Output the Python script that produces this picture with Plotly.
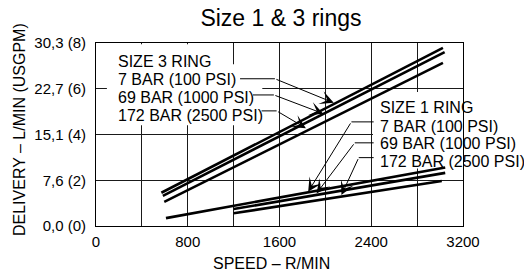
import plotly.graph_objects as go

# ---- data ----
speed_s3_7 = [570, 3025]
flow_s3_7 = [5.5, 29.5]
speed_s3_69 = [583, 3040]
flow_s3_69 = [5.0, 28.8]
speed_s3_172 = [595, 3025]
flow_s3_172 = [4.0, 27.0]

speed_s1_7 = [610, 3045]
flow_s1_7 = [1.3, 9.7]
speed_s1_69 = [1200, 3045]
flow_s1_69 = [2.8, 8.8]
speed_s1_172 = [1200, 3015]
flow_s1_172 = [2.1, 7.45]

x_tickvals = [0, 400, 800, 1200, 1600, 2000, 2400, 2800, 3200]
x_ticktext = ["0", "", "800", "", "1600", "", "2400", "", "3200"]
y_tickvals = [0, 7.575, 15.15, 22.725, 30.3]
y_ticktext = ["0,0 (0)", "7,6 (2)", "15,1 (4)", "22,7 (6)", "30,3 (8)"]

size3_labels = ["SIZE 3 RING", "7 BAR (100 PSI)", "69 BAR (1000 PSI)", "172 BAR (2500 PSI)"]
size1_labels = ["SIZE 1 RING", "7 BAR (100 PSI)", "69 BAR (1000 PSI)", "172 BAR (2500 PSI)"]

FONT = "Liberation Sans, Arial, sans-serif"

fig = go.Figure()
series = [
    (speed_s3_7, flow_s3_7), (speed_s3_69, flow_s3_69), (speed_s3_172, flow_s3_172),
    (speed_s1_7, flow_s1_7), (speed_s1_69, flow_s1_69), (speed_s1_172, flow_s1_172),
]
for sx, sy in series:
    fig.add_trace(go.Scatter(x=sx, y=sy, mode="lines",
                             line=dict(color="black", width=2.6),
                             showlegend=False, hoverinfo="skip"))

# white covers behind label blocks (above grid, below data)
covers = [
    (95, 1150, 26.8, 30.1),     # SIZE 3 RING line
    (95, 1450, 16.7, 26.8),     # size 3 pressure lines
    (2415, 3600, 9.5, 22.2),    # size 1 block
]
for x0, x1, y0, y1 in covers:
    fig.add_shape(type="rect", x0=x0, x1=x1, y0=y0, y1=y1, layer="between",
                  line=dict(width=0), fillcolor="white")

# label texts
s3_y = [27.2, 24.25, 21.2, 18.3]
for t, yy in zip(size3_labels, s3_y):
    fig.add_annotation(x=175, y=yy, text=t, showarrow=False, xanchor="left",
                       yanchor="middle", font=dict(family=FONT, size=16, color="black"))
s1_y = [19.55, 16.55, 13.6, 10.75]
for t, yy in zip(size1_labels, s1_y):
    fig.add_annotation(x=2458, y=yy, text=t, showarrow=False, xanchor="left",
                       yanchor="middle", font=dict(family=FONT, size=16, color="black"))

# leader lines: (horizontal start x, bend x, y, tip x, tip y)
leaders = [
    (1256, 1560, 24.38, 2073, 20.4),
    (1369, 1551, 21.70, 1982, 18.6),
    (1444, 1575, 19.06, 1830, 16.2),
    (2421, 2227, 17.24, 1850, 5.67),
    (2421, 2256, 13.77, 1923, 5.40),
    (2421, 2291, 11.32, 2140, 5.12),
]
for hx0, bx, by, tx, ty in leaders:
    fig.add_shape(type="line", x0=hx0, x1=bx, y0=by, y1=by, layer="above",
                  line=dict(color="black", width=1))
    fig.add_annotation(x=tx, y=ty, ax=bx, ay=by, axref="x", ayref="y",
                       xref="x", yref="y", text="", showarrow=True,
                       arrowhead=3, arrowsize=2.3, arrowwidth=1, arrowcolor="black",
                       standoff=0, startstandoff=0)

# axis titles
fig.add_annotation(xref="paper", yref="paper", x=0.477, y=-0.207, text="SPEED – R/MIN",
                   showarrow=False, xanchor="center", yanchor="middle",
                   font=dict(family=FONT, size=16, color="black"))
fig.add_annotation(xref="paper", yref="paper", x=-0.209, y=0.526,
                   text="DELIVERY – L/MIN (USGPM)", textangle=-90,
                   showarrow=False, xanchor="center", yanchor="middle",
                   font=dict(family=FONT, size=16, color="black"))

fig.update_layout(
    width=524, height=275,
    margin=dict(l=96, r=61, t=43, b=49),
    paper_bgcolor="white", plot_bgcolor="white",
    title=dict(text="Size 1 & 3 rings", x=0.504, xref="paper", xanchor="center",
               y=1 - 18 / 275, yref="container", yanchor="middle",
               font=dict(family=FONT, size=23, color="black")),
    font=dict(family=FONT, color="black"),
    xaxis=dict(range=[0, 3200], tickvals=x_tickvals, ticktext=x_ticktext,
               showgrid=True, gridcolor="#1a1a1a", gridwidth=1,
               showline=True, linecolor="black", linewidth=1, mirror=True,
               zeroline=False, ticks="", ticklabelstandoff=2,
               tickfont=dict(family=FONT, size=15, color="black")),
    yaxis=dict(range=[0, 30.3], tickvals=y_tickvals, ticktext=y_ticktext,
               showgrid=True, gridcolor="#1a1a1a", gridwidth=1,
               showline=True, linecolor="black", linewidth=1, mirror=True,
               zeroline=False, ticks="", ticklabelstandoff=6,
               tickfont=dict(family=FONT, size=15, color="black")),
)

fig.write_html("out.html", config={"displayModeBar": False},
               post_script="document.body.style.margin='0';")
